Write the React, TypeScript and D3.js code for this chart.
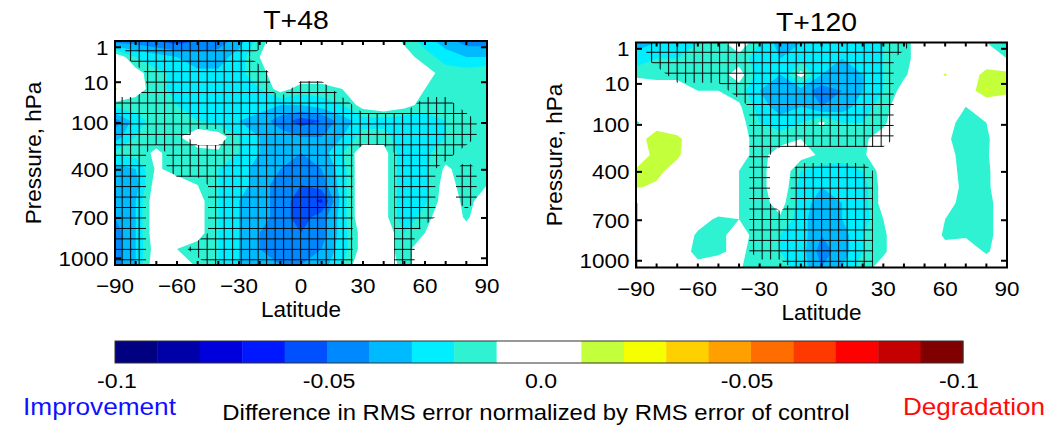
import { useRef, useEffect } from "react"
import * as d3 from "d3"

// grid of the zonal-mean fields
const latitudes = [-90, -80, -70, -60, -50, -40, -30, -20, -10, 0, 10, 20, 30, 40, 50, 60, 70, 80, 90]

// difference in RMS error (x100), rows run from model top down to the surface
const t48Values = [
  [-4.5, -4.5, -5, -5.5, -5, -4.5, -3.5, -1.5, 0, 0, 0, 0, 0, 0, -1.2, -2.5, -3.5, -4.5, -4.5],
  [0, -2, -2.5, -3, -3.5, -3.5, -2.5, -1, 0, 0, 0, 0, 0, 0, -0.5, -1.5, -2.5, -3, -3],
  [0, -0.5, -1.8, -2.2, -2.8, -2.8, -2.2, -1.5, 0, 0, 0, 0, 0, 0, 0, -0.5, -1.5, -1.5, -1.2],
  [1.2, -0.5, -1.5, -2.5, -2.5, -2.5, -2.5, -2, -0.5, -1.5, -1.5, -1, 0, 0, 0, -1, -1.5, -1.5, -1],
  [-1.5, -1.5, -1.5, -2, -2.5, -2.5, -2.5, -2.5, -3, -3, -2.5, -2, -0.5, 0, -0.5, -1.5, -2, -1.5, -1.5],
  [-4.5, -2.5, -1.5, -1.5, -2, -2.5, -3, -3.5, -4.5, -5.5, -5, -3.5, -2.5, -2.5, -2.8, -2.5, -2, -1.5, -1.5],
  [-3.5, -2, -1.5, -1.2, 0, -0.3, -2, -3, -3.5, -4, -4, -3, -1.5, -1.5, -2.8, -2.5, -2, -1.5, -1.5],
  [-1.8, -1.5, -0.8, -1.5, -1.5, -1.2, -2, -3, -3.5, -4, -3.5, -2, -0.3, -0.5, -2.8, -2.2, -1.5, -1.2, -1],
  [-3.5, -3, -0.8, -1.5, -1.5, -2, -2.5, -3.5, -4, -4.5, -4, -2.5, 0, -0.5, -2.8, -2.2, -0.8, -1.5, -1.2],
  [-4, -3.5, -0.3, -0.3, -1, -2, -2.5, -3.5, -4.5, -5, -4.5, -2.5, 0, -0.5, -2.8, -2.2, -0.5, -1.5, -1],
  [-4, -3, 0, 0, -0.5, -2, -3, -3.5, -4.5, -5.5, -6.2, -2.5, 0, -0.5, -2.8, -2.2, -0.3, -1.3, -0.5],
  [-4, -3, 0, 0, -0.5, -2, -3, -3.5, -4.5, -5.5, -4.5, -2.5, 0, -0.5, -2.8, -1.5, 0, -1.2, 0],
  [-4.5, -3, 0, 0, -0.5, -2, -3, -4, -4.5, -5, -4.5, -2.5, -0.5, 0, -2, -1, 0, -0.5, 0],
  [-4.5, -3, -0.3, -1, -1.5, -2, -3, -4, -4.5, -4.5, -4, -2.5, -0.5, -0.5, -1.5, 0, 0, 0, 0],
  [-4.5, -3, 0, 1.1, -1.5, -2, -3, -3.5, -4, -4, -3.5, -2, 0, 0, -1.5, 0, 1.1, 0, 1.1],
]

// 1 = statistically significant (hatched)
const t48Signif = [
  "0111111100000000000",
  "0111111000000000000",
  "0011111100000000000",
  "0011111101100000000",
  "1111111111110001100",
  "1111111111111111110",
  "1111001111111111110",
  "1101111111110011100",
  "1101111111110011010",
  "1100011111110011010",
  "1100011111110011010",
  "1100011111110011000",
  "1100011111110010000",
  "1100111111110010000",
  "1100011111110010000",
]

const t120Values = [
  [-3.5, -3, -2.5, -2, -1.5, 0, -2, -3.5, -3, -3, -3, -2.5, -2, -1.5, 0, 0, 0, -1, -2.5],
  [-2.5, -2, -2, -1.5, -1.5, -1.5, -2.5, -3, -2.5, -3, -3, -2.5, -2, -1.5, 0, 0, 0, 0, -1],
  [-1.5, -1.5, -1.5, -1.5, -1.5, -0.5, -2.5, -3, -0.5, -3, -3.5, -3, -2, -1.2, 0, 1.1, 0, 1.5, 1.5],
  [1.1, 0, 0, -1, -1, -1.5, -3, -4, -3.5, -4.5, -4, -3, -2, -0.5, 0, 0, 0, 2.1, 1.3],
  [0, 0, 0, 0, 0, -0.8, -2.5, -3.5, -3, -4, -3.5, -2.5, -1.5, 0, 0, 0, -1, -0.5, 0],
  [-1.2, 0, 0, 0, 0, -0.5, -2, -2.5, -2, -0.8, -2, -2, -1.2, 0, 0, -0.5, -1.5, -1, -0.5],
  [0, 2.05, 1.3, 0, 0, 0, -2, -1.5, -1, -1.5, -1.5, -1.2, -0.5, 0, 0, -0.8, -1.5, -1.2, 0],
  [0, 1.5, 1.2, 0, 0, -0.5, -1.5, -0.3, -0.5, -1.2, -1.5, -1.2, 0, 0, 0, -0.5, -1.5, -1.3, 1.1],
  [1.2, 1.3, 0.5, 0, 0, -1, -1.5, 0, -2, -2.5, -2.5, -2, -0.5, 0, 0, -0.3, -1.5, -1.5, 1.1],
  [1.1, 0.8, 0, 0, 0, -1, -1.5, 0, -2.5, -3, -3, -2.5, -0.5, 0, 0, 0, -1.5, -1.5, 1],
  [-1.1, 0, 0, 0, 0, -1, -1.5, -0.5, -2.5, -3.5, -3, -2.5, -0.5, 0, 0, -0.5, -1.5, -1.5, 0],
  [-1.1, 0, 0, -0.5, -1.2, -1, -1.5, -1.2, -2.5, -4, -3, -2.5, -1, 0, 0, -1, -1.5, -1.5, 0],
  [-1.1, 0, 0, -1.2, -1.3, -0.5, -1.5, -2, -2.5, -4, -3.5, -2, -1.2, 0, 0, -1.2, -1.2, -1.5, 0],
  [-1.1, 0, 0, -1.5, -1.3, -0.5, -2, -2, -2.5, -4.5, -3.5, -2, -1.2, 0, 0, -0.5, 0, -1.2, 0],
  [-1.1, 0, 0, -0.5, 0, -0.8, -2, -1.5, -2.5, -4, -3, -1.5, -0.5, 0, 0, 0, 0, 0, 0],
]

const t120Signif = [
  "0111111111111100000",
  "0111111111111000000",
  "0011111111111000000",
  "0000011111111000000",
  "0000001111111000000",
  "0000001111111000000",
  "0000001111111000000",
  "0000001000000000000",
  "0000001011110000000",
  "0000001011110000000",
  "0000001011110000000",
  "0000001111110000000",
  "0000001111110000000",
  "0000001111110000000",
  "0000000011110000000",
]

const latTicks = [-90, -60, -30, 0, 30, 60, 90]
const pressureTicks = [1, 10, 100, 400, 700, 1000]

const colorBounds = [
  -0.1, -0.09, -0.08, -0.07, -0.06, -0.05, -0.04, -0.03, -0.02, -0.01, 0,
  0.01, 0.02, 0.03, 0.04, 0.05, 0.06, 0.07, 0.08, 0.09, 0.1,
]
const colorSteps = [
  "#000080", "#0000a8", "#0000dc", "#0018ff", "#0050ff", "#0088ff", "#00baff", "#00eeff", "#2ef2d2",
  "#ffffff", "#ffffff",
  "#c4ff3c", "#f6ff00", "#ffd000", "#ffa000", "#ff6c00", "#ff3a00", "#ff0000", "#c40000", "#800000",
]
const colorbarTicks = [-0.1, -0.05, 0, 0.05, 0.1]
const colorbarLabels = ["-0.1", "-0.05", "0.0", "-0.05", "-0.1"]

const W = 1051
const H = 431
const FONT = "'Liberation Sans', Arial, Helvetica, sans-serif"

function addText(g: any, str: string, x: number, y: number, size: number, anchor = "middle", opts: any = {}) {
  const sx = opts.sx ?? 1.07
  const rot = opts.rotate ? ` rotate(${opts.rotate})` : ""
  return g
    .append("text")
    .attr("transform", `translate(${x},${y})${rot} scale(${sx},1)`)
    .attr("text-anchor", anchor)
    .attr("font-size", size)
    .attr("fill", opts.fill ?? "#000")
    .text(str)
}

function drawPanel(svg: any, p: any) {
  const right = p.left + p.width
  const nx = latitudes.length
  const ny = p.values.length
  const x = d3.scaleLinear().domain([latitudes[0], latitudes[nx - 1]]).range([p.left, right])
  // model levels are not evenly spaced in log-p: place the labelled levels by hand
  const levelFrac = [0.028, 0.184, 0.366, 0.575, 0.79, 0.97]
  const y = d3
    .scaleLinear()
    .domain(pressureTicks)
    .range(levelFrac.map((f) => p.top + f * (p.bottom - p.top)))
  const gy = d3.scaleLinear().domain([0.5, ny - 0.5]).range([p.top, p.bottom])
  const step = latitudes[1] - latitudes[0]
  const toPixels = d3.geoTransform({
    point(cx: number, cy: number) {
      this.stream.point(x(latitudes[0] + (cx - 0.5) * step), gy(cy))
    },
  })
  const path = d3.geoPath(toPixels)

  const defs = svg.append("defs")
  defs
    .append("clipPath")
    .attr("id", `clip-${p.id}`)
    .append("rect")
    .attr("x", p.left)
    .attr("y", p.top)
    .attr("width", p.width)
    .attr("height", p.bottom - p.top)

  const hx = 8.5
  const hy = 10.45
  const pat = defs
    .append("pattern")
    .attr("id", `hatch-${p.id}`)
    .attr("patternUnits", "userSpaceOnUse")
    .attr("x", p.left + 11.4)
    .attr("y", p.top + 15)
    .attr("width", hx)
    .attr("height", hy)
  pat
    .append("path")
    .attr("d", `M0,${hy / 2}H${hx}M${hx / 2},0V${hy}`)
    .attr("stroke", "#000")
    .attr("stroke-width", 1)
    .attr("fill", "none")

  // filled contours
  const plot = svg.append("g").attr("clip-path", `url(#clip-${p.id})`)
  plot.append("rect").attr("x", p.left).attr("y", p.top).attr("width", p.width).attr("height", p.bottom - p.top).attr("fill", "#fff")
  const field = p.values.flat().map((v: number) => v / 100)
  const bands = d3.contours().size([nx, ny]).thresholds(colorBounds.slice(1, -1))(field)
  plot
    .selectAll("path.band")
    .data(bands)
    .enter()
    .append("path")
    .attr("class", "band")
    .attr("d", path)
    .attr("fill", (d: any) => colorSteps[colorBounds.indexOf(d.value)])

  // significance hatching
  const mask = p.signif.flatMap((r: string) => r.split("").map(Number))
  const sig = d3.contours().size([nx, ny]).thresholds([0.5])(mask)
  plot
    .selectAll("path.sig")
    .data(sig)
    .enter()
    .append("path")
    .attr("class", "sig")
    .attr("d", path)
    .attr("fill", `url(#hatch-${p.id})`)

  // ticks
  const axes = svg.append("g").attr("stroke", "#000")
  axes
    .selectAll("line.xb")
    .data(latitudes)
    .enter()
    .append("line")
    .attr("x1", (d: number) => x(d))
    .attr("x2", (d: number) => x(d))
    .attr("y1", p.bottom)
    .attr("y2", p.bottom - 4)
    .attr("stroke-width", 2)
  axes
    .selectAll("line.xt")
    .data(latitudes)
    .enter()
    .append("line")
    .attr("x1", (d: number) => x(d))
    .attr("x2", (d: number) => x(d))
    .attr("y1", p.top)
    .attr("y2", p.top + 4)
    .attr("stroke-width", 2)
  axes
    .selectAll("line.yl")
    .data(pressureTicks)
    .enter()
    .append("line")
    .attr("x1", p.left)
    .attr("x2", p.left + 6)
    .attr("y1", (d: number) => y(d))
    .attr("y2", (d: number) => y(d))
    .attr("stroke-width", 2)
  axes
    .selectAll("line.yr")
    .data(pressureTicks)
    .enter()
    .append("line")
    .attr("x1", right)
    .attr("x2", right - 6)
    .attr("y1", (d: number) => y(d))
    .attr("y2", (d: number) => y(d))
    .attr("stroke-width", 2)

  svg
    .append("rect")
    .attr("x", p.left)
    .attr("y", p.top)
    .attr("width", p.width)
    .attr("height", p.bottom - p.top)
    .attr("fill", "none")
    .attr("stroke", "#000")
    .attr("stroke-width", 2)

  // labels
  const labels = svg.append("g")
  latTicks.forEach((d) => {
    addText(labels, d < 0 ? `\u2212${-d}` : `${d}`, x(d), p.bottom + 28, 21)
  })
  pressureTicks.forEach((d) => {
    addText(labels, `${d}`, p.left - 6.5, y(d) + 7.5, 21, "end")
  })
  addText(labels, "Latitude", (p.left + right) / 2, p.bottom + 52, 22.5, "middle", { sx: 1 })
  addText(labels, "Pressure, hPa", p.left - 74, (p.top + p.bottom) / 2, 22.5, "middle", { sx: 1, rotate: -90 })
  addText(labels, p.title, (p.left + right) / 2 - 5, p.top - 12, 26.5)
}

function drawColorbar(svg: any) {
  const cb = d3
    .scaleLinear()
    .domain([colorBounds[0], colorBounds[colorBounds.length - 1]])
    .range([115, 963])
  const top = 341
  const h = 22
  const g = svg.append("g")
  g.selectAll("rect.bin")
    .data(colorSteps)
    .enter()
    .append("rect")
    .attr("class", "bin")
    .attr("x", (d: string, i: number) => cb(colorBounds[i]))
    .attr("y", top)
    .attr("width", (d: string, i: number) => cb(colorBounds[i + 1]) - cb(colorBounds[i]) + 0.4)
    .attr("height", h)
    .attr("fill", (d: string) => d)
  g.append("rect")
    .attr("x", cb(colorBounds[0]))
    .attr("y", top)
    .attr("width", cb(colorBounds[colorBounds.length - 1]) - cb(colorBounds[0]))
    .attr("height", h)
    .attr("fill", "none")
    .attr("stroke", "#333")
    .attr("stroke-width", 1)

  colorbarTicks.forEach((d, i) => {
    // on the positive side the label's number (not its leading sign) sits on the tick
    const shift = d > 0 ? -4 : 2
    addText(g, colorbarLabels[i], cb(d) + shift, 388, 21, "middle", { sx: 1.1 })
  })
  addText(g, "Improvement", 99.5, 415, 24.5, "middle", { fill: "#1010ff", sx: 1.07 })
  addText(g, "Degradation", 974, 415, 23.5, "middle", { fill: "#ff0a0a", sx: 1.11 })
  addText(g, "Difference in RMS error normalized by RMS error of control", 536, 420, 22, "middle", { sx: 1.086 })
}

export default function App() {
  const svgRef = useRef<SVGSVGElement>(null)

  useEffect(() => {
    const svg = d3.select(svgRef.current)
    svg.selectAll("*").remove()
    svg.append("rect").attr("width", W).attr("height", H).attr("fill", "#fff")
    drawPanel(svg, { id: "t48", title: "T+48", left: 115, width: 372, top: 41, bottom: 265, values: t48Values, signif: t48Signif })
    drawPanel(svg, { id: "t120", title: "T+120", left: 636, width: 371, top: 42.5, bottom: 267.5, values: t120Values, signif: t120Signif })
    drawColorbar(svg)
  }, [svgRef])

  return (
    <svg
      ref={svgRef}
      width={W}
      height={H}
      style={{ position: "absolute", left: 0, top: 0, fontFamily: FONT }}
    ></svg>
  )
}
